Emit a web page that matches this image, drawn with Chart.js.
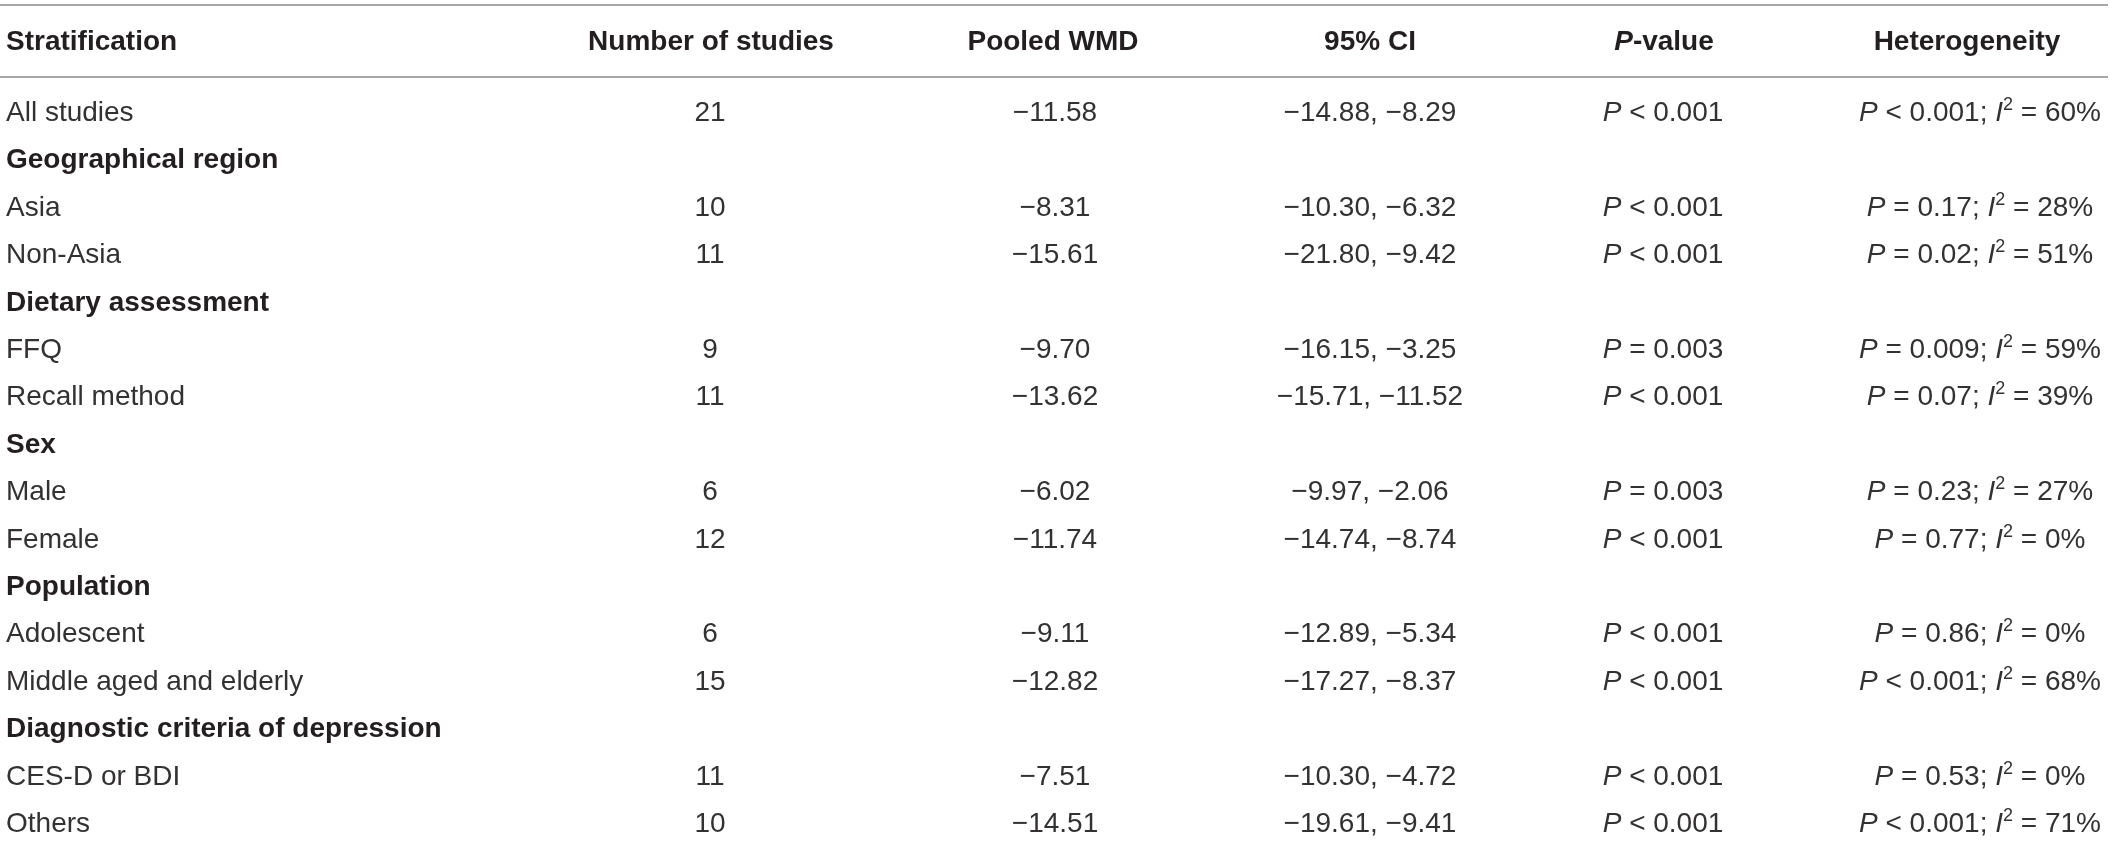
<!DOCTYPE html>
<html>
<head>
<meta charset="utf-8">
<script src="https://cdn.jsdelivr.net/npm/chart.js@4"></script>
<style>
  html, body { margin: 0; padding: 0; background: #fff; }
  #wrap { width: 2118px; height: 841px; }
</style>
</head>
<body>
<div id="wrap"><canvas id="tableChart"></canvas></div>
<script>
// --- table content ---
var headers = ['Stratification', 'Number of studies', 'Pooled WMD', '95% CI', 'P-value', 'Heterogeneity'];
var strata = ['All studies', 'Geographical region', 'Asia', 'Non-Asia', 'Dietary assessment', 'FFQ',
  'Recall method', 'Sex', 'Male', 'Female', 'Population', 'Adolescent', 'Middle aged and elderly',
  'Diagnostic criteria of depression', 'CES-D or BDI', 'Others'];
var isGroup = [false, true, false, false, true, false, false, true, false, false, true, false, false, true, false, false];
var nStudies = [21, null, 10, 11, null, 9, 11, null, 6, 12, null, 6, 15, null, 11, 10];
var pooledWMD = [-11.58, null, -8.31, -15.61, null, -9.70, -13.62, null, -6.02, -11.74, null, -9.11, -12.82, null, -7.51, -14.51];
var ciLower = [-14.88, null, -10.30, -21.80, null, -16.15, -15.71, null, -9.97, -14.74, null, -12.89, -17.27, null, -10.30, -19.61];
var ciUpper = [-8.29, null, -6.32, -9.42, null, -3.25, -11.52, null, -2.06, -8.74, null, -5.34, -8.37, null, -4.72, -9.41];
var pValue = ['< 0.001', null, '< 0.001', '< 0.001', null, '= 0.003', '< 0.001', null, '= 0.003', '< 0.001', null,
  '< 0.001', '< 0.001', null, '< 0.001', '< 0.001'];
var hetP = ['< 0.001', null, '= 0.17', '= 0.02', null, '= 0.009', '= 0.07', null, '= 0.23', '= 0.77', null,
  '= 0.86', '< 0.001', null, '= 0.53', '< 0.001'];
var hetI2 = [60, null, 28, 51, null, 59, 39, null, 27, 0, null, 0, 68, null, 0, 71];

// --- layout ---
var colPos = [6, 710, 1055, 1370, 1663, 1980];
var headerPos = [6, 711, 1053, 1370, 1664, 1967];
var colAlign = ['left', 'center', 'center', 'center', 'center', 'center'];
var headerRow = -1.5;
var ruleRows = [-2.24, -0.72];
var FONT = '"Liberation Sans", Arial, sans-serif';

function fmt(v) {
  return v.toFixed(2).replace('-', '\u2212');
}

function headerCell(c) {
  if (c === 4) return [{ t: 'P', italic: true, bold: true }, { t: '-value', bold: true }];
  return [{ t: headers[c], bold: true }];
}

function bodyCell(c, i) {
  if (c === 0) return [{ t: strata[i], bold: isGroup[i] }];
  if (nStudies[i] === null) return null;
  if (c === 1) return [{ t: String(nStudies[i]) }];
  if (c === 2) return [{ t: fmt(pooledWMD[i]) }];
  if (c === 3) return [{ t: fmt(ciLower[i]) + ', ' + fmt(ciUpper[i]) }];
  if (c === 4) return [{ t: 'P', italic: true }, { t: ' ' + pValue[i] }];
  return [{ t: 'P', italic: true }, { t: ' ' + hetP[i] + '; ' }, { t: 'I', italic: true },
    { t: '2', sup: true }, { t: ' = ' + hetI2[i] + '%' }];
}

var datasets = headers.map(function (h, c) {
  var pts = [{ x: headerPos[c], y: headerRow, cell: headerCell(c) }];
  strata.forEach(function (s, i) {
    var cell = bodyCell(c, i);
    if (cell) pts.push({ x: colPos[c], y: i, cell: cell });
  });
  return { label: h, data: pts, pointRadius: 0, align: colAlign[c] };
});

function runFont(r) {
  var size = r.sup ? 18 : 28;
  return (r.italic ? 'italic ' : '') + (r.bold ? 'bold ' : '') + size + 'px ' + FONT;
}

var tablePlugin = {
  id: 'tableText',
  beforeDatasetsDraw: function (chart) {
    var ctx = chart.ctx, x = chart.scales.x, y = chart.scales.y;
    ctx.save();
    ctx.strokeStyle = '#a7a7a7';
    ctx.lineWidth = 2;
    ruleRows.forEach(function (r) {
      var py = Math.round(y.getPixelForValue(r));
      ctx.beginPath();
      ctx.moveTo(chart.chartArea.left, py);
      ctx.lineTo(x.getPixelForValue(2108), py);
      ctx.stroke();
    });
    ctx.restore();
  },
  afterDatasetsDraw: function (chart) {
    var ctx = chart.ctx;
    ctx.save();
    ctx.textBaseline = 'alphabetic';
    chart.data.datasets.forEach(function (ds, d) {
      var meta = chart.getDatasetMeta(d);
      meta.data.forEach(function (pt, j) {
        var runs = ds.data[j].cell;
        var total = 0;
        runs.forEach(function (r) { ctx.font = runFont(r); r.w = ctx.measureText(r.t).width; total += r.w; });
        var px = ds.align === 'left' ? pt.x : pt.x - total / 2;
        var base = pt.y + 10;
        runs.forEach(function (r) {
          ctx.font = runFont(r);
          ctx.fillStyle = r.bold ? '#231f20' : '#333132';
          ctx.fillText(r.t, px, r.sup ? base - 11 : base);
          px += r.w;
        });
      });
    });
    ctx.restore();
  }
};

var ctx = document.getElementById('tableChart').getContext('2d');
var tableChart = new Chart(ctx, {
  type: 'scatter',
  data: { datasets: datasets },
  options: {
    responsive: true,
    maintainAspectRatio: false,
    animation: false,
    events: [],
    layout: { padding: 0 },
    plugins: { legend: { display: false }, tooltip: { enabled: false } },
    scales: {
      x: { type: 'linear', min: 0, max: 2118, display: false },
      y: { type: 'linear', reverse: true, min: -2.342, max: 15.4, display: false }
    }
  },
  plugins: [tablePlugin]
});
</script>
</body>
</html>
